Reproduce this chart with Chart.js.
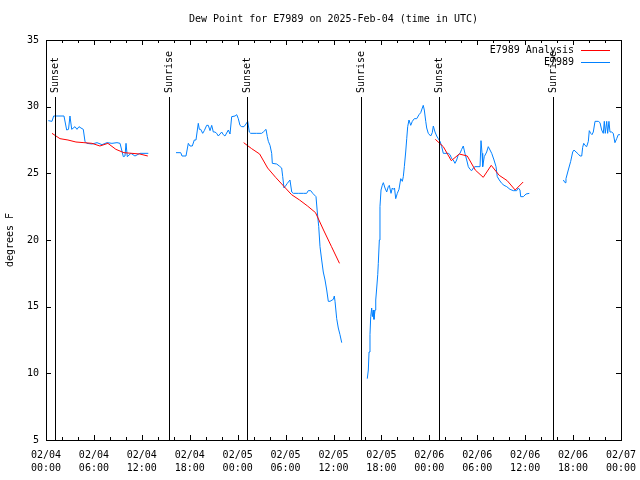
<!DOCTYPE html>
<html>
<head>
<meta charset="utf-8">
<script src="https://cdn.jsdelivr.net/npm/chart.js@4"></script>
<style>
  html, body { margin: 0; padding: 0; background: #fff; }
  canvas { display: block; }
</style>
</head>
<body>
<canvas id="dewChart" width="640" height="480"></canvas>
<script>
// hours since 2025-02-04 00:00 UTC
const tickDates = ['02/04', '02/04', '02/04', '02/04', '02/05', '02/05', '02/05', '02/05', '02/06', '02/06', '02/06', '02/06', '02/07'];
const tickTimes = ['00:00', '06:00', '12:00', '18:00', '00:00', '06:00', '12:00', '18:00', '00:00', '06:00', '12:00', '18:00', '00:00'];

const sunHours = [1.13, 15.43, 25.2, 39.42, 49.25, 63.43];
const sunLabels = ['Sunset', 'Sunrise', 'Sunset', 'Sunrise', 'Sunset', 'Sunrise'];

// E7989 observations, four pieces with gaps between them
const obsHours1 = [0.29, 0.75, 0.96, 2.25, 2.59, 2.82, 3.0, 3.22, 3.63, 3.88, 4.13, 4.38, 4.67, 4.88, 5.10, 5.76, 6.39, 7.01, 7.64, 8.26, 8.89, 9.27, 9.68, 9.89, 10.02, 10.18, 10.64, 11.14, 11.77, 12.27, 12.81];
const obsDew1 = [28.95, 28.9, 29.3, 29.3, 28.25, 28.3, 29.3, 28.3, 28.5, 28.3, 28.5, 28.4, 28.3, 27.4, 27.25, 27.2, 27.3, 27.15, 27.3, 27.25, 27.3, 27.25, 26.25, 26.3, 27.25, 26.25, 26.5, 26.3, 26.5, 26.5, 26.5];

const obsHours2 = [16.28, 16.87, 17.03, 17.53, 17.82, 18.03, 18.32, 18.57, 18.78, 19.07, 19.20, 19.37, 19.62, 19.82, 20.12, 20.32, 20.54, 20.75, 20.95, 21.16,
  21.37, 21.58, 22.0, 22.2, 22.41, 22.83, 23.04, 23.25, 23.67, 23.88, 24.08, 24.29, 24.5, 24.79, 25.04, 25.26, 25.46, 25.63, 26.38, 27.0,
  27.21, 27.55, 27.71, 27.84, 28.05, 28.26, 28.34, 28.89, 29.21, 29.51, 29.64, 29.80, 29.93, 30.22, 30.55, 30.77, 30.97, 31.59, 32.22, 32.64,
  32.84, 33.15, 33.40, 33.81, 33.97, 34.15, 34.31, 34.52, 34.72, 34.94, 35.15, 35.35, 35.56, 35.98, 36.1, 36.19, 36.4, 36.6, 36.81, 37.03];
const obsDew2 = [26.55, 26.55, 26.3, 26.3, 27.25, 27.05, 27.05, 27.5, 27.5, 28.75, 28.3, 28.3, 28.0, 28.2, 28.6, 28.6, 28.2, 28.6, 28.1, 28.1,
  28.0, 27.8, 28.1, 27.9, 27.8, 28.25, 27.95, 29.25, 29.3, 29.4, 29.1, 28.6, 28.5, 28.5, 28.7, 28.9, 28.1, 28.0, 28.0, 28.0,
  28.1, 28.3, 27.75, 27.4, 27.1, 26.5, 25.75, 25.7, 25.55, 25.4, 24.75, 23.9, 24.0, 24.25, 24.5, 23.6, 23.5, 23.5, 23.5, 23.5,
  23.7, 23.7, 23.5, 23.25, 22.1, 21.0, 19.5, 18.5, 17.6, 17.0, 16.25, 15.4, 15.4, 15.55, 15.8, 15.4, 14.1, 13.4, 12.9, 12.3];

const obsHours3 = [40.23, 40.36, 40.45, 40.57, 40.66, 40.78, 40.86, 40.98, 41.07, 41.2, 41.29, 41.41, 41.54, 41.61, 41.74, 41.82, 41.95, 42.11, 42.24, 42.45,
  42.66, 42.86, 42.99, 43.2, 43.36, 43.49, 43.64, 43.79, 43.99, 44.2, 44.42, 44.62, 44.74, 44.87, 45.04, 45.17, 45.29, 45.45, 45.67, 45.87,
  46.12, 46.42, 46.71, 46.92, 47.12, 47.24, 47.37, 47.55, 47.67, 47.87, 48.17, 48.37, 48.5, 48.71, 48.92, 49.12, 49.34, 49.55, 49.75, 50.38,
  50.59, 50.8, 51.0, 51.21, 51.42, 51.63, 51.84, 52.05, 52.25, 52.46, 52.68, 52.88, 53.09, 53.3, 53.51, 53.72, 54.35, 54.47, 54.6, 54.68,
  54.88, 55.18, 55.38, 55.6, 55.81, 56.1, 56.35, 56.51, 56.76, 57.06, 57.35, 57.69, 58.1, 58.51, 58.94, 59.14, 59.35, 59.44, 59.77, 60.11, 60.52];
const obsDew3 = [9.6, 10.25, 11.6, 12.9, 14.25, 14.9, 14.25, 14.75, 14.05, 14.75, 15.5, 16.4, 17.4, 18.25, 20.0, 22.5, 23.75, 24.1, 24.3, 23.9,
  23.6, 24.0, 24.1, 23.5, 23.9, 23.8, 23.9, 23.1, 23.5, 23.8, 24.6, 24.4, 24.75, 25.5, 26.6, 27.6, 28.5, 29.0, 28.6, 28.9,
  29.1, 29.1, 29.4, 29.55, 29.9, 30.1, 29.75, 28.9, 28.4, 28.0, 27.8, 28.05, 28.55, 28.1, 27.8, 27.6, 27.4, 27.0, 26.5, 26.5,
  26.4, 26.1, 26.0, 25.75, 26.0, 26.4, 26.5, 26.8, 27.05, 26.5, 26.0, 25.5, 25.3, 25.2, 25.4, 25.5, 25.5, 27.45, 26.5, 25.5,
  26.25, 26.6, 27.0, 26.75, 26.5, 26.0, 25.5, 24.75, 24.5, 24.25, 24.1, 24.0, 23.8, 23.7, 23.7, 23.9, 23.75, 23.25, 23.25, 23.45, 23.5];

const obsHours4 = [64.78, 64.99, 65.11, 65.4, 65.7, 65.95, 66.12, 66.37, 66.65, 66.87, 67.08, 67.2, 67.33, 67.49, 67.7, 67.91, 68.03, 68.21, 68.37, 68.53,
  68.75, 69.16, 69.37, 69.58, 69.78, 69.91, 70.03, 70.21, 70.33, 70.49, 70.62, 70.83, 71.03, 71.24, 71.46, 71.66, 71.87];
const obsDew4 = [24.5, 24.3, 24.6, 25.25, 25.9, 26.6, 26.75, 26.6, 26.45, 26.3, 26.3, 26.95, 27.25, 27.1, 27.0, 27.4, 28.2, 28.0, 27.9, 28.1,
  28.9, 28.9, 28.8, 28.25, 28.0, 28.9, 28.0, 28.9, 28.0, 28.9, 28.1, 28.1, 28.0, 27.3, 27.6, 27.9, 27.9];

// E7989 Analysis (hourly)
const anaHours1 = [0.75, 1.75, 2.75, 3.75, 4.75, 5.75, 6.75, 7.75, 8.75, 9.75, 10.75, 11.75, 12.75];
const anaDew1 = [28.0, 27.6, 27.5, 27.35, 27.3, 27.25, 27.05, 27.25, 26.8, 26.55, 26.5, 26.45, 26.3];
const anaHours2 = [24.75, 25.75, 26.75, 27.75, 28.75, 29.75, 30.75, 31.75, 32.75, 33.75, 34.75, 35.75, 36.75];
const anaDew2 = [27.3, 26.85, 26.45, 25.4, 24.7, 24.05, 23.4, 23.0, 22.55, 22.05, 20.75, 19.5, 18.25];
const anaHours3 = [48.75, 49.75, 50.75, 51.75, 52.75, 53.75, 54.75, 55.75, 56.75, 57.75, 58.75, 59.75];
const anaDew3 = [27.55, 27.0, 25.95, 26.45, 26.3, 25.25, 24.7, 25.6, 24.85, 24.45, 23.75, 24.35];

const FONT = '"DejaVu Sans Mono", monospace';
const RED = '#ff0000';
const BLUE = '#0080ff';

function joinPieces(hours, values) {
	const pts = [];
	hours.forEach((h, i) => {
		if (i > 0) pts.push({x: (hours[i - 1][hours[i - 1].length - 1] + h[0]) / 2, y: null});
		h.forEach((t, j) => pts.push({x: t, y: values[i][j]}));
	});
	return pts;
}

// gnuplot-like frame: full border, inward ticks, sun lines, inside legend
const framePlugin = {
	id: 'frame',
	afterDatasetsDraw(chart) {
		const {ctx, chartArea: a, scales: {x, y}} = chart;
		ctx.save();
		ctx.strokeStyle = '#000';
		ctx.lineWidth = 1;
		ctx.strokeRect(a.left + 0.5, a.top + 0.5, a.right - a.left, a.bottom - a.top);

		ctx.beginPath();
		for (let v = x.min; v <= x.max; v += 2) {
			const px = Math.round(x.getPixelForValue(v)) + 0.5;
			const len = v % 6 === 0 ? 5 : 3;
			ctx.moveTo(px, a.bottom); ctx.lineTo(px, a.bottom - len);
			ctx.moveTo(px, a.top); ctx.lineTo(px, a.top + len);
		}
		y.ticks.forEach(t => {
			const py = Math.round(y.getPixelForValue(t.value)) + 0.5;
			ctx.moveTo(a.left, py); ctx.lineTo(a.left + 5, py);
			ctx.moveTo(a.right, py); ctx.lineTo(a.right - 5, py);
		});
		ctx.stroke();

		// sunrise / sunset markers
		ctx.font = '10px ' + FONT;
		ctx.fillStyle = '#000';
		sunHours.forEach((h, i) => {
			const px = Math.round(x.getPixelForValue(h)) + 0.5;
			ctx.beginPath();
			ctx.moveTo(px, a.top + 57);
			ctx.lineTo(px, a.bottom);
			ctx.stroke();
			ctx.save();
			ctx.translate(px, a.top + 53);
			ctx.rotate(-Math.PI / 2);
			ctx.textAlign = 'left';
			ctx.textBaseline = 'middle';
			ctx.fillText(sunLabels[i], 0, 0);
			ctx.restore();
		});

		// legend
		ctx.textAlign = 'right';
		ctx.textBaseline = 'middle';
		chart.data.datasets.forEach((ds, i) => {
			const ly = a.top + 10 + i * 12;
			ctx.fillStyle = '#000';
			ctx.fillText(ds.label, a.right - 47, ly);
			ctx.strokeStyle = ds.borderColor;
			ctx.beginPath();
			ctx.moveTo(a.right - 40, ly + 0.5);
			ctx.lineTo(a.right - 11, ly + 0.5);
			ctx.stroke();
		});
		ctx.restore();
	}
};

new Chart(document.getElementById('dewChart'), {
	type: 'line',
	data: {
		datasets: [
			{
				label: 'E7989 Analysis',
				data: joinPieces([anaHours1, anaHours2, anaHours3], [anaDew1, anaDew2, anaDew3]),
				borderColor: RED,
				borderWidth: 1,
				pointRadius: 0,
				tension: 0,
				spanGaps: false
			},
			{
				label: 'E7989',
				data: joinPieces([obsHours1, obsHours2, obsHours3, obsHours4], [obsDew1, obsDew2, obsDew3, obsDew4]),
				borderColor: BLUE,
				borderWidth: 1,
				pointRadius: 0,
				tension: 0,
				spanGaps: false
			}
		]
	},
	options: {
		responsive: false,
		animation: false,
		layout: { padding: { left: 0, right: 19, top: 0, bottom: 0 } },
		plugins: {
			legend: { display: false },
			tooltip: { enabled: false },
			title: {
				display: true,
				fullSize: false,
				text: 'Dew Point for E7989 on 2025-Feb-04 (time in UTC)',
				color: '#000',
				font: { family: FONT, size: 10, weight: 'normal' },
				padding: { top: 13, bottom: 15 }
			}
		},
		scales: {
			x: {
				type: 'linear',
				min: 0,
				max: 72,
				afterFit: s => { s.height = 40; s.paddingLeft = 0; s.paddingRight = 0; },
				grid: { display: false, drawTicks: false },
				border: { display: false },
				ticks: {
					stepSize: 6,
					autoSkip: false,
					maxRotation: 0,
					padding: 9,
					color: '#000',
					font: { family: FONT, size: 10, lineHeight: 1.3 },
					callback: (v, i) => [tickDates[i], tickTimes[i]]
				}
			},
			y: {
				min: 5,
				max: 35,
				afterFit: s => { s.width = 46; },
				grid: { display: false, drawTicks: false },
				border: { display: false },
				ticks: {
					stepSize: 5,
					padding: 7,
					color: '#000',
					font: { family: FONT, size: 10 }
				},
				title: {
					display: true,
					text: 'degrees F',
					color: '#000',
					font: { family: FONT, size: 10 },
					padding: { top: 4, bottom: 0 }
				}
			}
		}
	},
	plugins: [framePlugin]
});
</script>
</body>
</html>
